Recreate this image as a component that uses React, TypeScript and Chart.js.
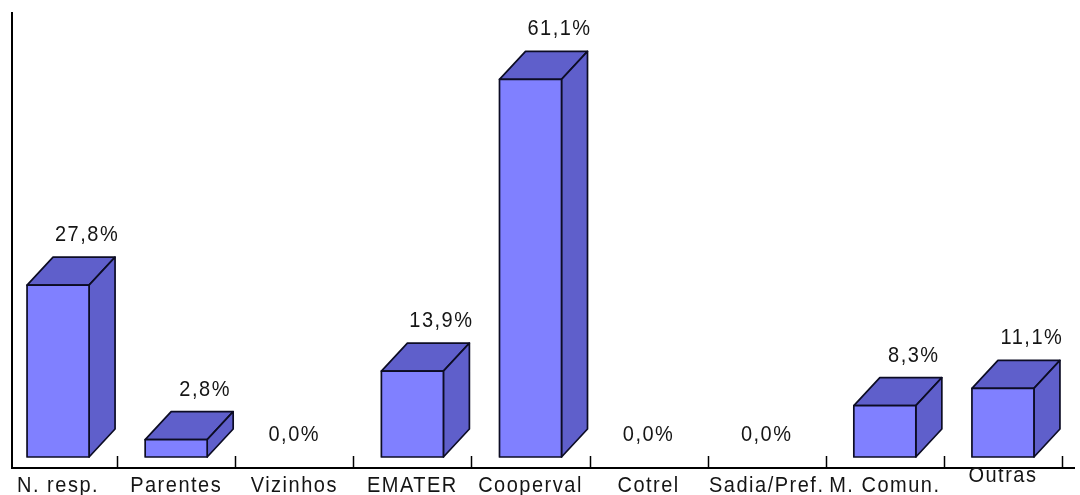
import React, { useEffect, useRef } from "react";
import { Chart, registerables } from "chart.js";

Chart.register(...registerables);

// Source of information, share of respondents (%)
const categories: (string | string[])[] = [
  "N. resp.",
  "Parentes",
  "Vizinhos",
  "EMATER",
  "Cooperval",
  "Cotrel",
  "Sadia/Pref.",
  "M. Comun.",
  ["Outras", ""],
];
const shares = [27.8, 2.8, 0, 13.9, 61.1, 0, 0, 8.3, 11.1];
const valueMax = 72;

const FRONT = "#8080FF";
const SHADE = "#5F5FCB";
const EDGE = "#0c0c24";
const TEXT = "#151515";
const FONT = '20px "Liberation Sans", Arial, sans-serif';
const TEXT_STRETCH = 1.1;
const DEPTH_X = 26;
const DEPTH_Y = 28;
const FLOOR_GAP = 11;

const fmt = (v: number) => v.toFixed(1).replace(".", ",") + "%";

// text drawn slightly taller than its width, like the old bitmap chart fonts
function tallText(ctx: CanvasRenderingContext2D, t: string, x: number, y: number) {
  ctx.save();
  ctx.translate(x, y);
  ctx.scale(1, TEXT_STRETCH);
  ctx.fillText(t, 0, 0);
  ctx.restore();
}

const boxes3d = {
  id: "boxes3d",
  afterDatasetsDraw(chart: any) {
    const ctx: CanvasRenderingContext2D = chart.ctx;
    const { left, right, top, bottom } = chart.chartArea;
    const xs = chart.scales.x;
    const meta = chart.getDatasetMeta(0);
    const floorY = bottom + FLOOR_GAP;
    const shift = DEPTH_X / 2;

    ctx.save();

    // axis lines
    ctx.strokeStyle = "#000";
    ctx.lineWidth = 2;
    ctx.beginPath();
    ctx.moveTo(left, top);
    ctx.lineTo(left, floorY);
    ctx.lineTo(right, floorY);
    ctx.stroke();

    // tick marks between categories, pointing inward
    ctx.lineWidth = 1.5;
    for (let i = 1; i <= categories.length; i++) {
      const x =
        (xs.getPixelForValue(i - 1) + xs.getPixelForValue(i)) / 2 - shift;
      ctx.beginPath();
      ctx.moveTo(Math.round(x) + 0.5, floorY);
      ctx.lineTo(Math.round(x) + 0.5, floorY - 12);
      ctx.stroke();
    }

    // 3D boxes
    ctx.lineJoin = "round";
    meta.data.forEach((el: any, i: number) => {
      const v = shares[i];
      const p = el.getProps(["x", "y", "base", "width"], true);
      const cx = p.x - shift;
      const x0 = cx - p.width / 2;
      const x1 = cx + p.width / 2;
      const y0 = p.y;
      const yb = p.base;

      if (v > 0) {
        ctx.lineWidth = 1.7;
        ctx.strokeStyle = EDGE;

        // top face
        ctx.fillStyle = SHADE;
        ctx.beginPath();
        ctx.moveTo(x0, y0);
        ctx.lineTo(x0 + DEPTH_X, y0 - DEPTH_Y);
        ctx.lineTo(x1 + DEPTH_X, y0 - DEPTH_Y);
        ctx.lineTo(x1, y0);
        ctx.closePath();
        ctx.fill();
        ctx.stroke();

        // side face
        ctx.beginPath();
        ctx.moveTo(x1, y0);
        ctx.lineTo(x1 + DEPTH_X, y0 - DEPTH_Y);
        ctx.lineTo(x1 + DEPTH_X, yb - DEPTH_Y);
        ctx.lineTo(x1, yb);
        ctx.closePath();
        ctx.fill();
        ctx.stroke();

        // front face
        ctx.fillStyle = FRONT;
        ctx.fillRect(x0, y0, x1 - x0, yb - y0);
        ctx.strokeRect(x0, y0, x1 - x0, yb - y0);
      }

      // value label
      ctx.font = FONT;
      (ctx as any).letterSpacing = "1.5px";
      ctx.fillStyle = TEXT;
      ctx.textAlign = "center";
      ctx.textBaseline = "middle";
      if (v > 0) {
        tallText(ctx, fmt(v), cx + DEPTH_X + 3, y0 - DEPTH_Y - 22);
      } else {
        tallText(ctx, fmt(v), cx, yb - 22);
      }

      // category label
      const lines = Array.isArray(categories[i])
        ? (categories[i] as string[])
        : [categories[i] as string];
      const lineH = 20;
      const baseY = floorY + 24 - ((lines.length - 1) * lineH) / 2;
      ctx.textBaseline = "alphabetic";
      lines.forEach((t, k) => {
        if (t) tallText(ctx, t, cx, baseY + k * lineH);
      });
    });

    ctx.restore();
  },
};

export default function App() {
  const ref = useRef<HTMLCanvasElement>(null);

  useEffect(() => {
    if (!ref.current) return;
    const chart = new Chart(ref.current, {
      type: "bar",
      data: {
        labels: categories.map((c) => (Array.isArray(c) ? c[0] : c)),
        datasets: [
          {
            data: shares,
            backgroundColor: "rgba(0,0,0,0)",
            borderWidth: 0,
            barPercentage: 0.525,
            categoryPercentage: 1,
          },
        ],
      },
      options: {
        animation: false,
        responsive: true,
        maintainAspectRatio: false,
        layout: { padding: { left: 12, right: 5, top: 12, bottom: 38 } },
        scales: {
          x: { display: false },
          y: { display: false, min: 0, max: valueMax },
        },
        plugins: {
          legend: { display: false },
          tooltip: { enabled: false },
        },
      },
      plugins: [boxes3d],
    });
    return () => chart.destroy();
  }, []);

  return (
    <div
      style={{
        position: "absolute",
        left: 0,
        top: 0,
        width: 1080,
        height: 495,
        background: "#fff",
      }}
    >
      <canvas ref={ref} />
    </div>
  );
}
